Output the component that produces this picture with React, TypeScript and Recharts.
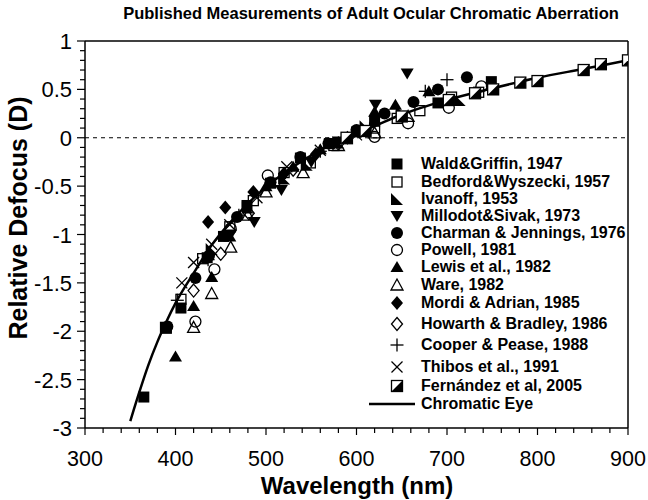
import {
  ComposedChart,
  Legend,
  Line,
  ReferenceLine,
  Scatter,
  XAxis,
  YAxis,
} from 'recharts'

const FONT = '"Liberation Sans", Arial, Helvetica, sans-serif'

const xMajorTicks = [300, 400, 500, 600, 700, 800, 900]
const yMajorTicks = [-3, -2.5, -2, -1.5, -1, -0.5, 0, 0.5, 1]
const xTicks = Array.from({ length: 31 }, (_, i) => 300 + i * 20)
const yTicks = Array.from({ length: 41 }, (_, i) => Math.round((-3 + i * 0.1) * 10) / 10)

const wald = [
  [365, -2.68], [390, -1.97], [406, -1.76], [435, -1.24], [453, -1.02], [479, -0.7],
  [505, -0.47], [538, -0.21], [570, -0.06], [600, 0.06], [620, 0.17], [690, 0.36], [749, 0.58],
]
const bedford = [
  [389, -1.96], [406, -1.67], [430, -1.25], [460, -0.92], [486, -0.65], [520, -0.36],
  [549, -0.26], [575, -0.08], [590, -0.01], [620, 0.1], [645, 0.2], [670, 0.28], [705, 0.42], [735, 0.47],
]
const ivanoff = [
  [440, -1.15], [480, -0.72], [520, -0.42], [545, -0.28], [580, -0.05], [610, 0.12], [650, 0.27], [714, 0.39],
]
const millodot = [
  [461, -1.0], [487, -0.87], [517, -0.54], [550, -0.25], [580, -0.04], [621, 0.34], [656, 0.665],
]
const charman = [
  [391, -1.95], [422, -1.45], [437, -1.22], [468, -0.82], [505, -0.46], [538, -0.2],
  [569, -0.06], [600, 0.08], [631, 0.25], [663, 0.37], [690, 0.5], [722, 0.625],
]
const powell = [
  [422, -1.9], [443, -1.36], [461, -0.94], [502, -0.39], [620, 0.01], [657, 0.15], [702, 0.31], [738, 0.53],
]
const lewis = [
  [400, -2.26], [420, -1.74], [440, -1.44], [460, -1.02], [500, -0.5], [530, -0.3],
  [560, -0.12], [620, 0.27], [643, 0.34], [680, 0.48],
]
const ware = [
  [420, -1.96], [440, -1.61], [461, -1.13], [480, -0.8], [500, -0.56], [541, -0.36],
  [580, -0.08], [620, 0.05], [657, 0.22],
]
const mordi = [[436, -0.87], [455, -0.72], [486, -0.56], [520, -0.37], [555, -0.17], [590, 0.0]]
const howarth = [[420, -1.58], [450, -1.2], [481, -0.78], [530, -0.33], [580, -0.06]]
const cooper = [
  [402, -1.68], [436, -1.26], [470, -0.8], [515, -0.42], [560, -0.14], [676, 0.48], [700, 0.6],
]
const thibos = [
  [407, -1.5], [420, -1.29], [440, -1.1], [460, -0.9], [490, -0.62], [523, -0.3], [560, -0.13], [600, 0.03],
]
const fernandez = [
  [589, 0.0], [610, 0.07], [650, 0.22], [702, 0.39], [731, 0.46], [751, 0.5], [781, 0.57],
  [800, 0.586], [851, 0.7], [870, 0.76], [900, 0.8],
]
const chromaticEye = [
  [350, -2.93], [360, -2.63], [370, -2.35], [380, -2.11], [390, -1.9], [400, -1.71],
  [420, -1.4], [440, -1.11], [460, -0.88], [480, -0.68], [500, -0.51], [530, -0.3],
  [560, -0.13], [590, 0.0], [620, 0.12], [650, 0.24], [700, 0.39], [750, 0.51],
  [800, 0.62], [850, 0.71], [900, 0.8],
]

const series = [
  { name: 'Wald&Griffin, 1947', kind: 'square', points: wald, row: 164 },
  { name: 'Bedford&Wyszecki, 1957', kind: 'openSquare', points: bedford, row: 181.5 },
  { name: 'Ivanoff, 1953', kind: 'rightTri', points: ivanoff, row: 198.5 },
  { name: 'Millodot&Sivak, 1973', kind: 'downTri', points: millodot, row: 216 },
  { name: 'Charman & Jennings, 1976', kind: 'circle', points: charman, row: 232.5 },
  { name: 'Powell, 1981', kind: 'openCircle', points: powell, row: 250 },
  { name: 'Lewis et al., 1982', kind: 'upTri', points: lewis, row: 267 },
  { name: 'Ware, 1982', kind: 'openUpTri', points: ware, row: 284.5 },
  { name: 'Mordi & Adrian, 1985', kind: 'diamond', points: mordi, row: 303 },
  { name: 'Howarth & Bradley, 1986', kind: 'openDiamond', points: howarth, row: 324 },
  { name: 'Cooper & Pease, 1988', kind: 'plus', points: cooper, row: 345 },
  { name: 'Thibos et al., 1991', kind: 'cross', points: thibos, row: 366.5 },
  { name: 'Fernández et al, 2005', kind: 'halfSquare', points: fernandez, row: 385.5 },
]

const toRows = (pts: number[][]) => pts.map(([x, y]) => ({ x, y }))

const Marker = ({ kind, cx, cy }: { kind: string; cx: number; cy: number }) => {
  const k = '#000'
  switch (kind) {
    case 'square':
      return <rect x={cx - 5.5} y={cy - 5.5} width={11} height={11} fill={k} />
    case 'openSquare':
      return <rect x={cx - 5} y={cy - 5} width={10} height={10} fill="none" stroke={k} strokeWidth={1.3} />
    case 'rightTri':
      return <polygon points={`${cx - 6},${cy - 6} ${cx - 6},${cy + 6} ${cx + 6},${cy + 6}`} fill={k} />
    case 'downTri':
      return <polygon points={`${cx - 6.5},${cy - 5} ${cx + 6.5},${cy - 5} ${cx},${cy + 6}`} fill={k} />
    case 'circle':
      return <circle cx={cx} cy={cy} r={6} fill={k} />
    case 'openCircle':
      return <circle cx={cx} cy={cy} r={5.5} fill="none" stroke={k} strokeWidth={1.3} />
    case 'upTri':
      return <polygon points={`${cx},${cy - 6} ${cx - 6.5},${cy + 5} ${cx + 6.5},${cy + 5}`} fill={k} />
    case 'openUpTri':
      return (
        <polygon points={`${cx},${cy - 6} ${cx - 6},${cy + 5} ${cx + 6},${cy + 5}`} fill="none" stroke={k} strokeWidth={1.3} />
      )
    case 'diamond':
      return <polygon points={`${cx},${cy - 7} ${cx + 6},${cy} ${cx},${cy + 7} ${cx - 6},${cy}`} fill={k} />
    case 'openDiamond':
      return (
        <polygon points={`${cx},${cy - 6.5} ${cx + 5.5},${cy} ${cx},${cy + 6.5} ${cx - 5.5},${cy}`} fill="none" stroke={k} strokeWidth={1.3} />
      )
    case 'plus':
      return (
        <g stroke={k} strokeWidth={1.3}>
          <line x1={cx - 6.5} x2={cx + 6.5} y1={cy} y2={cy} />
          <line x1={cx} x2={cx} y1={cy - 6.5} y2={cy + 6.5} />
        </g>
      )
    case 'cross':
      return (
        <g stroke={k} strokeWidth={1.3}>
          <line x1={cx - 5.5} x2={cx + 5.5} y1={cy - 5.5} y2={cy + 5.5} />
          <line x1={cx - 5.5} x2={cx + 5.5} y1={cy + 5.5} y2={cy - 5.5} />
        </g>
      )
    case 'halfSquare':
      return (
        <g>
          <rect x={cx - 5.5} y={cy - 5.5} width={11} height={11} fill="#fff" stroke={k} strokeWidth={1.3} />
          <polygon points={`${cx + 5.5},${cy - 5.5} ${cx + 5.5},${cy + 5.5} ${cx - 5.5},${cy + 5.5}`} fill={k} />
        </g>
      )
    default:
      return null
  }
}

const XTick = ({ x, y, payload }: any) => {
  const v = payload.value
  const major = xMajorTicks.includes(v)
  return (
    <g>
      <line x1={x} x2={x} y1={y} y2={y + (major ? 7 : 5)} stroke="#000" strokeWidth={1.2} />
      {major && (
        <text x={x} y={y + 38} textAnchor="middle" fontSize={21.5} fontFamily={FONT} fill="#000">
          {v}
        </text>
      )}
    </g>
  )
}

const YTick = ({ x, y, payload }: any) => {
  const v = payload.value
  const major = yMajorTicks.some((t) => Math.abs(t - v) < 1e-6)
  return (
    <g>
      <line x1={x - (major ? 8 : 5)} x2={x} y1={y} y2={y} stroke="#000" strokeWidth={1.2} />
      {major && (
        <text x={x - 13} y={y + 8} textAnchor="end" fontSize={22} fontFamily={FONT} fill="#000">
          {v}
        </text>
      )}
    </g>
  )
}

const LegendBox = () => (
  <div style={{ position: 'relative', width: 648, height: 500, fontFamily: FONT }}>
    {series.map((s) => (
      <div key={s.name}>
        <svg
          width={20}
          height={20}
          style={{ position: 'absolute', left: 387, top: s.row - 10, overflow: 'visible' }}
        >
          <Marker kind={s.kind} cx={10} cy={10} />
        </svg>
        <span
          style={{
            position: 'absolute',
            left: 421,
            top: s.row - 10,
            fontSize: 16,
            fontWeight: 'bold',
            lineHeight: '20px',
            whiteSpace: 'nowrap',
            color: '#000',
          }}
        >
          {s.name}
        </span>
      </div>
    ))}
    <svg width={60} height={20} style={{ position: 'absolute', left: 365, top: 394, overflow: 'visible' }}>
      <line x1={4} x2={50} y1={10} y2={10} stroke="#000" strokeWidth={2.5} />
    </svg>
    <span
      style={{
        position: 'absolute',
        left: 421,
        top: 394,
        fontSize: 16,
        fontWeight: 'bold',
        lineHeight: '20px',
        whiteSpace: 'nowrap',
        color: '#000',
      }}
    >
      Chromatic Eye
    </span>
  </div>
)

export default function App() {
  return (
    <div style={{ position: 'absolute', left: 0, top: 0, width: 648, height: 500, background: '#fff' }}>
      <div
        style={{
          position: 'absolute',
          left: 0,
          width: 742,
          top: 3,
          textAlign: 'center',
          fontFamily: FONT,
          fontWeight: 'bold',
          fontSize: 16.5,
          lineHeight: '20px',
          color: '#000',
          zIndex: 2,
        }}
      >
        Published Measurements of Adult Ocular Chromatic Aberration
      </div>
      <ComposedChart width={648} height={500} margin={{ top: 41, right: 20, bottom: 0, left: 0 }}>
        <XAxis
          type="number"
          dataKey="x"
          domain={[300, 900]}
          ticks={xTicks}
          interval={0}
          tickSize={0}
          tickMargin={0}
          tickLine={false}
          tick={<XTick />}
          height={72}
          axisLine={{ stroke: '#000', strokeWidth: 1.5 }}
          allowDataOverflow
          label={{
            content: () => (
              <text x={357} y={494} textAnchor="middle" fontSize={24} fontWeight="bold" fontFamily={FONT} fill="#000">
                Wavelength (nm)
              </text>
            ),
          }}
        />
        <YAxis
          type="number"
          domain={[-3, 1]}
          ticks={yTicks}
          interval={0}
          tickSize={0}
          tickMargin={0}
          tickLine={false}
          tick={<YTick />}
          width={85}
          axisLine={{ stroke: '#000', strokeWidth: 1.5 }}
          allowDataOverflow
          label={{
            content: () => (
              <text
                x={27}
                y={218}
                transform="rotate(-90 27 218)"
                textAnchor="middle"
                fontSize={25}
                fontWeight="bold"
                fontFamily={FONT}
                fill="#000"
              >
                Relative Defocus (D)
              </text>
            ),
          }}
        />
        <ReferenceLine y={0} stroke="#000" strokeWidth={1.2} strokeDasharray="4 4" />
        <ReferenceLine y={1} stroke="#000" strokeWidth={1.5} />
        <ReferenceLine x={900} stroke="#000" strokeWidth={1.5} />
        <Line
          data={toRows(chromaticEye)}
          dataKey="y"
          type="monotone"
          stroke="#000"
          strokeWidth={2.5}
          dot={false}
          isAnimationActive={false}
          legendType="none"
        />
        {series.map((s) => (
          <Scatter
            key={s.name}
            name={s.name}
            data={toRows(s.points)}
            dataKey="y"
            isAnimationActive={false}
            shape={(p: any) => <Marker kind={s.kind} cx={p.cx} cy={p.cy} />}
          />
        ))}
        <Legend
          verticalAlign="middle"
          align="center"
          content={() => <LegendBox />}
          wrapperStyle={{ left: 0, top: 0, width: 648, height: 500, pointerEvents: 'none' }}
        />
      </ComposedChart>
    </div>
  )
}
